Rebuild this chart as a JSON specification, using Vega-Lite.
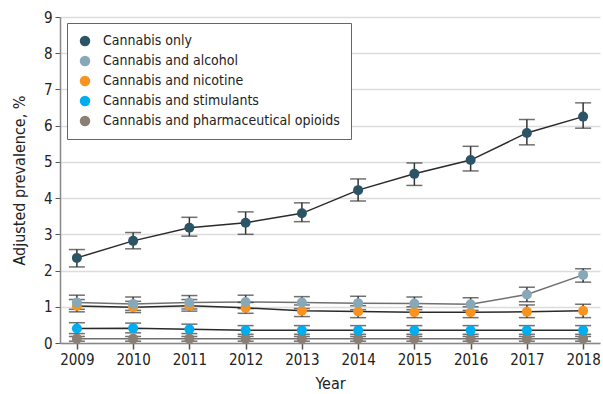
{
  "$schema": "https://vega.github.io/schema/vega-lite/v6.json",
  "width": 540,
  "height": 326,
  "autosize": "none",
  "padding": {"left": 60, "top": 17, "right": 3, "bottom": 51},
  "config": {
    "font": "DejaVu Sans Condensed",
    "view": {"stroke": null},
    "axis": {"labelFont": "DejaVu Sans Condensed", "titleFont": "DejaVu Sans Condensed", "labelFontSize": 15, "titleFontSize": 16, "labelColor": "#222", "titleColor": "#222", "titleFontWeight": "normal", "domainColor": "#888", "tickColor": "#555", "domainWidth": 1.5}
  },
  "data": {"values": [
    {"year": 2009, "series": "Cannabis and pharmaceutical opioids", "v": 0.12, "lo": 0.05, "hi": 0.18},
    {"year": 2010, "series": "Cannabis and pharmaceutical opioids", "v": 0.12, "lo": 0.05, "hi": 0.18},
    {"year": 2011, "series": "Cannabis and pharmaceutical opioids", "v": 0.12, "lo": 0.05, "hi": 0.18},
    {"year": 2012, "series": "Cannabis and pharmaceutical opioids", "v": 0.12, "lo": 0.05, "hi": 0.18},
    {"year": 2013, "series": "Cannabis and pharmaceutical opioids", "v": 0.12, "lo": 0.05, "hi": 0.18},
    {"year": 2014, "series": "Cannabis and pharmaceutical opioids", "v": 0.12, "lo": 0.05, "hi": 0.18},
    {"year": 2015, "series": "Cannabis and pharmaceutical opioids", "v": 0.12, "lo": 0.05, "hi": 0.18},
    {"year": 2016, "series": "Cannabis and pharmaceutical opioids", "v": 0.12, "lo": 0.05, "hi": 0.18},
    {"year": 2017, "series": "Cannabis and pharmaceutical opioids", "v": 0.12, "lo": 0.05, "hi": 0.18},
    {"year": 2018, "series": "Cannabis and pharmaceutical opioids", "v": 0.12, "lo": 0.05, "hi": 0.18},
    {"year": 2009, "series": "Cannabis and stimulants", "v": 0.40, "lo": 0.26, "hi": 0.56},
    {"year": 2010, "series": "Cannabis and stimulants", "v": 0.41, "lo": 0.28, "hi": 0.55},
    {"year": 2011, "series": "Cannabis and stimulants", "v": 0.38, "lo": 0.26, "hi": 0.52},
    {"year": 2012, "series": "Cannabis and stimulants", "v": 0.35, "lo": 0.24, "hi": 0.48},
    {"year": 2013, "series": "Cannabis and stimulants", "v": 0.35, "lo": 0.24, "hi": 0.48},
    {"year": 2014, "series": "Cannabis and stimulants", "v": 0.35, "lo": 0.24, "hi": 0.48},
    {"year": 2015, "series": "Cannabis and stimulants", "v": 0.35, "lo": 0.24, "hi": 0.48},
    {"year": 2016, "series": "Cannabis and stimulants", "v": 0.35, "lo": 0.24, "hi": 0.48},
    {"year": 2017, "series": "Cannabis and stimulants", "v": 0.35, "lo": 0.24, "hi": 0.48},
    {"year": 2018, "series": "Cannabis and stimulants", "v": 0.35, "lo": 0.24, "hi": 0.48},
    {"year": 2009, "series": "Cannabis and nicotine", "v": 1.02, "lo": 0.86, "hi": 1.20},
    {"year": 2010, "series": "Cannabis and nicotine", "v": 0.99, "lo": 0.84, "hi": 1.15},
    {"year": 2011, "series": "Cannabis and nicotine", "v": 1.03, "lo": 0.88, "hi": 1.20},
    {"year": 2012, "series": "Cannabis and nicotine", "v": 0.97, "lo": 0.82, "hi": 1.12},
    {"year": 2013, "series": "Cannabis and nicotine", "v": 0.89, "lo": 0.73, "hi": 1.05},
    {"year": 2014, "series": "Cannabis and nicotine", "v": 0.87, "lo": 0.70, "hi": 1.03},
    {"year": 2015, "series": "Cannabis and nicotine", "v": 0.85, "lo": 0.70, "hi": 1.00},
    {"year": 2016, "series": "Cannabis and nicotine", "v": 0.85, "lo": 0.70, "hi": 1.00},
    {"year": 2017, "series": "Cannabis and nicotine", "v": 0.86, "lo": 0.70, "hi": 1.05},
    {"year": 2018, "series": "Cannabis and nicotine", "v": 0.89, "lo": 0.70, "hi": 1.07},
    {"year": 2009, "series": "Cannabis and alcohol", "v": 1.12, "lo": 0.93, "hi": 1.32},
    {"year": 2010, "series": "Cannabis and alcohol", "v": 1.08, "lo": 0.90, "hi": 1.27},
    {"year": 2011, "series": "Cannabis and alcohol", "v": 1.12, "lo": 0.94, "hi": 1.31},
    {"year": 2012, "series": "Cannabis and alcohol", "v": 1.13, "lo": 0.95, "hi": 1.32},
    {"year": 2013, "series": "Cannabis and alcohol", "v": 1.12, "lo": 0.95, "hi": 1.28},
    {"year": 2014, "series": "Cannabis and alcohol", "v": 1.10, "lo": 0.92, "hi": 1.29},
    {"year": 2015, "series": "Cannabis and alcohol", "v": 1.09, "lo": 0.92, "hi": 1.27},
    {"year": 2016, "series": "Cannabis and alcohol", "v": 1.07, "lo": 0.90, "hi": 1.25},
    {"year": 2017, "series": "Cannabis and alcohol", "v": 1.34, "lo": 1.14, "hi": 1.54},
    {"year": 2018, "series": "Cannabis and alcohol", "v": 1.88, "lo": 1.68, "hi": 2.05},
    {"year": 2009, "series": "Cannabis only", "v": 2.35, "lo": 2.10, "hi": 2.58},
    {"year": 2010, "series": "Cannabis only", "v": 2.82, "lo": 2.60, "hi": 3.05},
    {"year": 2011, "series": "Cannabis only", "v": 3.18, "lo": 2.95, "hi": 3.47},
    {"year": 2012, "series": "Cannabis only", "v": 3.32, "lo": 3.00, "hi": 3.62},
    {"year": 2013, "series": "Cannabis only", "v": 3.58, "lo": 3.35, "hi": 3.87},
    {"year": 2014, "series": "Cannabis only", "v": 4.22, "lo": 3.92, "hi": 4.53},
    {"year": 2015, "series": "Cannabis only", "v": 4.67, "lo": 4.35, "hi": 4.97},
    {"year": 2016, "series": "Cannabis only", "v": 5.05, "lo": 4.75, "hi": 5.43},
    {"year": 2017, "series": "Cannabis only", "v": 5.80, "lo": 5.47, "hi": 6.17},
    {"year": 2018, "series": "Cannabis only", "v": 6.25, "lo": 5.93, "hi": 6.63}
  ]},
  "encoding": {
    "x": {"field": "year", "type": "ordinal", "scale": {"type": "point", "padding": 0.3}, "axis": {"title": "Year", "labelAngle": 0, "grid": false, "tickSize": 6, "tickWidth": 1.5, "labelPadding": 3, "titlePadding": 8}}
  },
  "layer": [
    {
      "transform": [{"filter": "datum.series == 'Cannabis only' || datum.series == 'Cannabis and nicotine' || datum.series == 'Cannabis and stimulants'"}],
      "mark": {"type": "line", "strokeWidth": 1.5, "color": "#2a2a2a"},
      "encoding": {
        "y": {"field": "v", "type": "quantitative", "scale": {"domain": [0, 9]}, "axis": {"title": "Adjusted prevalence, %", "tickCount": 9, "grid": true, "gridColor": "#dcdcdc", "gridWidth": 1.5, "tickSize": 5, "labelPadding": 3, "titlePadding": 16}},
        "detail": {"field": "series"}
      }
    },
    {
      "transform": [{"filter": "datum.series == 'Cannabis and alcohol' || datum.series == 'Cannabis and pharmaceutical opioids'"}],
      "mark": {"type": "line", "strokeWidth": 1.5, "color": "#707070"},
      "encoding": {
        "y": {"field": "v", "type": "quantitative"},
        "detail": {"field": "series"}
      }
    },
    {
      "mark": {"type": "rule", "color": "#333", "strokeWidth": 1.5},
      "encoding": {"y": {"field": "lo", "type": "quantitative"}, "y2": {"field": "hi"}}
    },
    {
      "mark": {"type": "tick", "color": "#333", "orient": "horizontal", "size": 16, "thickness": 1.5},
      "encoding": {"y": {"field": "lo", "type": "quantitative"}}
    },
    {
      "mark": {"type": "tick", "color": "#333", "orient": "horizontal", "size": 16, "thickness": 1.5},
      "encoding": {"y": {"field": "hi", "type": "quantitative"}}
    },
    {
      "mark": {"type": "point", "shape": "circle", "filled": true, "size": 100, "opacity": 1},
      "encoding": {
        "y": {"field": "v", "type": "quantitative"},
        "color": {"field": "series", "type": "nominal", "scale": {"domain": ["Cannabis only", "Cannabis and alcohol", "Cannabis and nicotine", "Cannabis and stimulants", "Cannabis and pharmaceutical opioids"], "range": ["#2b5566", "#87a9b7", "#f7931e", "#00aeef", "#8a7f72"]},
          "legend": {"title": null, "orient": "none", "legendX": 7, "legendY": 6, "labelFontSize": 14, "labelFont": "DejaVu Sans Condensed", "labelColor": "#222", "symbolSize": 110, "symbolType": "circle", "symbolOpacity": 1, "rowPadding": 6, "labelOffset": 11, "padding": 11, "strokeColor": "#666", "fillColor": "white", "labelLimit": 400, "symbolStrokeWidth": 0}}
      }
    }
  ]
}
